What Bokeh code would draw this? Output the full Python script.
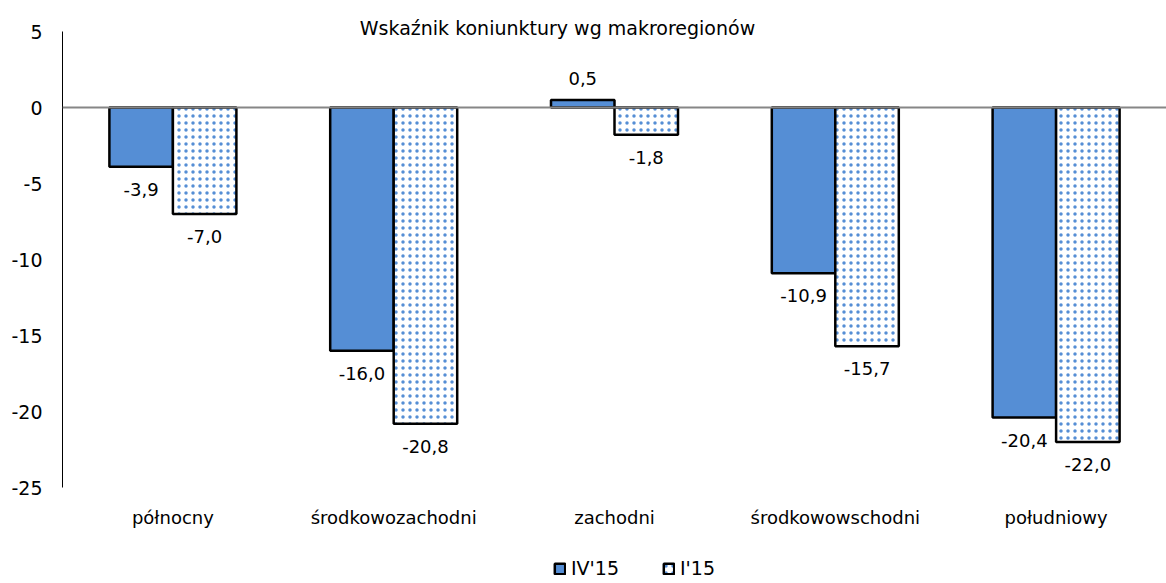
from bokeh.plotting import figure
from bokeh.models import (ColumnDataSource, FactorRange, Range1d, FixedTicker, Span,
                          Label, Legend, LegendItem)
from bokeh.transform import dodge
from bokeh.embed import file_html
from bokeh.resources import INLINE

title = "Wskaźnik koniunktury wg makroregionów"
categories = ["północny", "środkowozachodni", "zachodni", "środkowowschodni", "południowy"]
series_names = ["IV'15", "I'15"]
iv15 = [-3.9, -16.0, 0.5, -10.9, -20.4]
i15 = [-7.0, -20.8, -1.8, -15.7, -22.0]
y_ticks = [5, 0, -5, -10, -15, -20, -25]

FONT = "DejaVu Sans"
BLUE = "#558ED5"

W_PX, H_PX = 1166, 583
LEFT = 62
AX_TOP, AX_BOT = 31, 487          # pixel rows of y = 5 and y = -25
YMAX, YMIN = max(y_ticks), min(y_ticks)
ppu = (AX_BOT - AX_TOP) / (YMAX - YMIN)
y_end = YMAX + AX_TOP / ppu
y_start = YMIN - (H_PX - AX_BOT) / ppu

p = figure(width=W_PX, height=H_PX, output_backend="svg", toolbar_location=None,
           x_range=FactorRange(*categories, range_padding=0),
           y_range=Range1d(y_start, y_end), x_axis_location=None,
           min_border_left=LEFT, min_border_right=0, min_border_top=0, min_border_bottom=0)
p.outline_line_color = None
p.grid.visible = False
p.background_fill_color = "white"


def fmt(v):
    return f"{v:.1f}".replace(".", ",")


def make_src(vals):
    return ColumnDataSource(dict(
        cat=categories, val=vals,
        lbl=[fmt(v) for v in vals],
        base=["top" if v < 0 else "bottom" for v in vals],
        yoff=[16 if v < 0 else -15 for v in vals],
    ))


src1 = make_src(iv15)
src2 = make_src(i15)
W = 0.2876
OFF = 0.1438

r1 = p.vbar(x=dodge("cat", -OFF, range=p.x_range), top="val", bottom=0, width=W, source=src1,
            fill_color=BLUE, line_color="black", line_width=2.5)
r2 = p.vbar(x=dodge("cat", OFF, range=p.x_range), top="val", bottom=0, width=W, source=src2,
            fill_color="white", line_color="black", line_width=2.5,
            hatch_pattern="dot", hatch_color=BLUE, hatch_scale=7, hatch_weight=1.5)

p.add_layout(Span(location=0, dimension="width", line_color="#868686", line_width=2))

for src, off in ((src1, -OFF), (src2, OFF)):
    p.text(x=dodge("cat", off, range=p.x_range), y="val", text="lbl", source=src,
           text_align="center", text_baseline="base", y_offset="yoff",
           text_font={"value": FONT}, text_font_size="18px", text_color="black")

# category labels under the plot area
cat_src = ColumnDataSource(dict(cat=categories, y=[YMIN] * len(categories)))
p.text(x="cat", y="y", text="cat", source=cat_src, y_offset=30,
       text_align="center", text_baseline="middle",
       text_font={"value": FONT}, text_font_size="18px", text_color="black")

# y axis
yax = p.yaxis[0]
yax.bounds = (YMIN, YMAX)
yax.ticker = FixedTicker(ticks=y_ticks)
yax.major_label_overrides = {t: str(t) for t in y_ticks}
yax.major_tick_line_color = None
yax.minor_tick_line_color = None
yax.major_tick_out = 0
yax.major_label_standoff = 20
yax.axis_line_color = "black"
yax.major_label_text_font = FONT
yax.major_label_text_font_size = "19px"
yax.major_label_text_color = "black"

p.add_layout(Label(x=557 - LEFT, y=H_PX - 27, x_units="screen", y_units="screen", text=title,
                   text_align="center", text_baseline="middle",
                   text_font=FONT, text_font_size="19px", text_color="black"))

legend = Legend(items=[LegendItem(label=series_names[0], renderers=[r1]),
                       LegendItem(label=series_names[1], renderers=[r2])],
                orientation="horizontal", location=(553 - LEFT, 4),
                glyph_width=13, glyph_height=13, label_standoff=5, spacing=43,
                padding=0, margin=0, border_line_alpha=0, background_fill_alpha=0,
                label_height=19,
                label_text_font=FONT, label_text_font_size="19px", label_text_color="black")
p.add_layout(legend, "center")

open("out.html", "w").write(file_html(p, INLINE))
